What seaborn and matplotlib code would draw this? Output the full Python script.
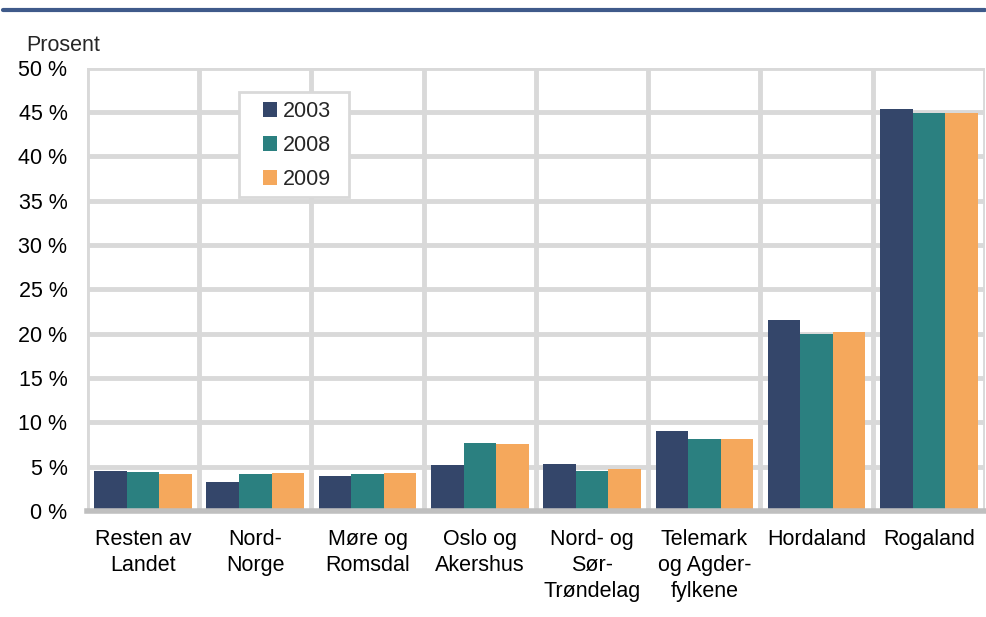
import matplotlib
matplotlib.use("Agg")
import matplotlib.pyplot as plt
import seaborn as sns
import pandas as pd
import numpy as np
from matplotlib.ticker import FixedLocator
from matplotlib.patches import Rectangle

categories = ["Resten av\nLandet", "Nord-\nNorge", "Møre og\nRomsdal", "Oslo og\nAkershus",
              "Nord- og\nSør-\nTrøndelag", "Telemark\nog Agder-\nfylkene", "Hordaland", "Rogaland"]
years = ["2003", "2008", "2009"]
v2003 = [4.5, 3.3, 3.95, 5.2, 5.3, 9.0, 21.5, 45.4]
v2008 = [4.4, 4.2, 4.2, 7.7, 4.5, 8.1, 20.0, 44.9]
v2009 = [4.2, 4.3, 4.3, 7.6, 4.7, 8.1, 20.2, 44.9]
yticks = [0, 5, 10, 15, 20, 25, 30, 35, 40, 45, 50]
colors = ["#34466a", "#2b8080", "#f5a85c"]

rows = []
for yr, vals in zip(years, [v2003, v2008, v2009]):
    for c, v in zip(categories, vals):
        rows.append({"Region": c, "År": yr, "Verdi": v})
df = pd.DataFrame(rows)

sns.set_theme(style="white")
plt.rcParams["font.family"] = ["Liberation Sans", "DejaVu Sans"]

FS = 15.5
fig = plt.figure(figsize=(9.87, 6.17), dpi=100)
ax = fig.add_axes([0.088, 0.172, 0.910, 0.718])

sns.barplot(data=df, x="Region", y="Verdi", hue="År", palette=colors,
            width=0.87, saturation=1, ax=ax, legend=True, errorbar=None,
            linewidth=0, edgecolor="none", zorder=3)

ax.set_xlim(-0.5, len(categories) - 0.5)
ax.set_ylim(0, 50)
ax.set_yticks(yticks)
ax.set_yticklabels([f"{t} %" for t in yticks], fontsize=FS, color="black")
ax.set_xticks(range(len(categories)))
ax.set_xticklabels(categories, fontsize=FS, color="black", va="top", linespacing=1.3)
ax.xaxis.set_minor_locator(FixedLocator(np.arange(-0.5, len(categories), 1.0)))
ax.tick_params(axis="both", which="both", length=0)
ax.tick_params(axis="y", which="major", pad=14)
ax.tick_params(axis="x", which="major", pad=13)
ax.set_xlabel("")
ax.set_ylabel("")

ax.grid(True, axis="y", which="major", color="#d9d9d9", linewidth=3.5, zorder=0)
ax.grid(True, axis="x", which="minor", color="#d9d9d9", linewidth=3.5, zorder=0)
ax.grid(False, axis="x", which="major")
ax.set_axisbelow(True)
for s in ["top", "right", "left"]:
    ax.spines[s].set_visible(False)
ax.spines["bottom"].set_color("#bfbfbf")
ax.spines["bottom"].set_linewidth(4)
ax.spines["bottom"].set_zorder(4)

# legend frame drawn separately for asymmetric padding
frame = Rectangle((0.1694, 0.7086), 0.1225, 0.237, transform=ax.transAxes,
                  facecolor="white", edgecolor="#d9d9d9", linewidth=2, zorder=5)
ax.add_patch(frame)
leg = ax.legend(loc="upper left", bbox_to_anchor=(0.196, 0.925), fontsize=FS,
                frameon=False,
                handlelength=0.65, handleheight=0.65, handletextpad=0.3,
                borderpad=0, labelspacing=0.6, borderaxespad=0)
leg.set_zorder(6)

fig.text(0.027, 0.926, "Prosent", fontsize=FS, ha="left", va="center")
fig.add_artist(plt.Line2D([0.003, 0.998], [0.984, 0.984], color="#3f5a8a", linewidth=3))

fig.savefig("out.png", dpi=100)
